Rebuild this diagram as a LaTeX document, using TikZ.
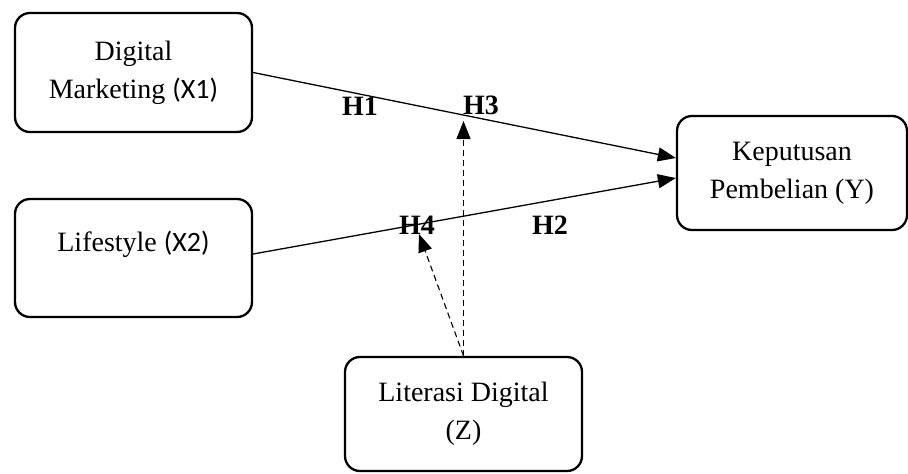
\documentclass[tikz,border=0pt]{standalone}
\usepackage{fontspec}
\setmainfont{Liberation Serif}
\newfontfamily\sansf{Carlito}
\usetikzlibrary{arrows.meta}
\tikzset{
  varbox/.style={draw, line width=2.3pt, rounded corners=15pt, align=center,
    font=\fontsize{28}{38}\selectfont, inner sep=0pt},
  path/.style={line width=1.3pt, -{Triangle[length=18pt,width=14pt]}},
  modpath/.style={line width=1.1pt, dash pattern=on 6pt off 4pt, -{Triangle[length=18pt,width=14pt]}},
  hyp/.style={font=\fontsize{28}{34}\selectfont\bfseries, inner sep=0pt}
}
\begin{document}
\begin{tikzpicture}[x=1pt,y=-1pt]
\useasboundingbox (0,0) rectangle (908,474);
\node[varbox, minimum width=237pt, minimum height=119pt] (x1) at (133.5,72.5) {Digital\\Marketing {\sansf(X1)}};
\node[varbox, minimum width=237pt, minimum height=118pt] (x2) at (133.5,258) {Lifestyle {\sansf(X2)}\\[-16pt]\strut};
\node[varbox, minimum width=230pt, minimum height=114pt] (y) at (792,173) {Keputusan\\Pembelian (Y)};
\node[varbox, minimum width=237pt, minimum height=114pt] (z) at (463.5,414) {Literasi Digital\\(Z)};
\coordinate (h3tip) at (463.5,121);
\coordinate (h4tip) at (419,234);
\draw[path] (x1.east) -- ([yshift=15pt]y.west);
\draw[path] ([yshift=4pt]x2.east) -- ([yshift=-5pt]y.west);
\draw[modpath] (z.north) -- (h3tip);
\draw[modpath] (z.north) -- (h4tip);
\node[hyp] (h1) at (360,106) {H1};
\node[hyp] (h3) at (481,105) {H3};
\node[hyp] (h4) at (417,225) {H4};
\node[hyp] (h2) at (550,225) {H2};
\end{tikzpicture}
\end{document}
